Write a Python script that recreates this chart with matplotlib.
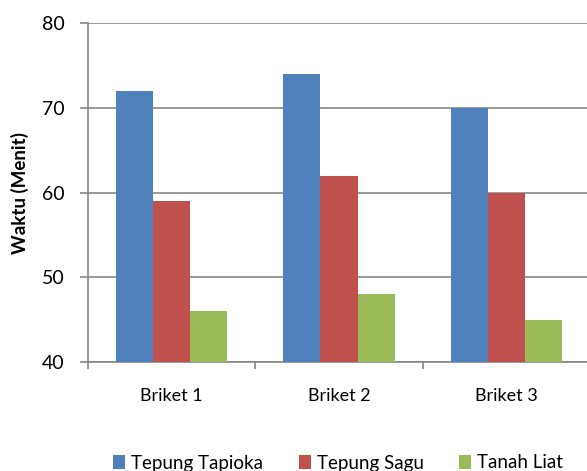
import numpy as np
import matplotlib.pyplot as plt

plt.rcParams['font.family'] = ['Lato', 'DejaVu Sans']

categories = ['Briket 1', 'Briket 2', 'Briket 3']
series_names = ['Tepung Tapioka', 'Tepung Sagu', 'Tanah Liat']
tapioka = [72, 74, 70]
sagu = [59, 62, 60]
liat = [46, 48, 45]
colors = ['#4F81BD', '#C0504D', '#9BBB59']

fig = plt.figure(figsize=(5.87, 4.71), dpi=100)
ax = fig.add_axes([88 / 587, 109 / 471, 502 / 587, 339 / 471])

x = np.arange(len(categories))
w = 1 / 4.5
for i, (vals, name) in enumerate(zip([tapioka, sagu, liat], series_names)):
    ax.bar(x + (i - 1) * w, np.array(vals) - 40, bottom=40, width=w,
           color=colors[i], label=name, zorder=3)

ax.set_xlim(-0.5, 2.5)
ax.set_ylim(40, 80)
ax.set_yticks([40, 50, 60, 70, 80])
ax.yaxis.grid(True, color='#878787', linewidth=1.2, zorder=0)

ax.set_xticks(x)
ax.set_xticklabels(categories, fontsize=13)
ax.set_xticks([-0.5, 0.5, 1.5, 2.5], minor=True)
ax.tick_params(axis='x', which='major', length=0, pad=19)
ax.tick_params(axis='x', which='minor', length=5, color='#878787', width=1.2)
ax.tick_params(axis='y', length=6, color='#878787', width=1.2, labelsize=14, pad=11)

for s in ['top', 'right']:
    ax.spines[s].set_visible(False)
for s in ['left', 'bottom']:
    ax.spines[s].set_color('#878787')
    ax.spines[s].set_linewidth(1.2)

fig.text(20 / 587, 278.5 / 471, 'Waktu (Menit)', rotation=90, ha='center',
         va='center', fontsize=13.5, fontweight='bold')

fig.legend(loc='center', bbox_to_anchor=(338 / 587, 8 / 471), ncol=3,
           frameon=False, fontsize=13.5, handlelength=0.65, handleheight=0.7,
           handletextpad=0.3, columnspacing=1.9)

fig.savefig('out.png', dpi=100)
